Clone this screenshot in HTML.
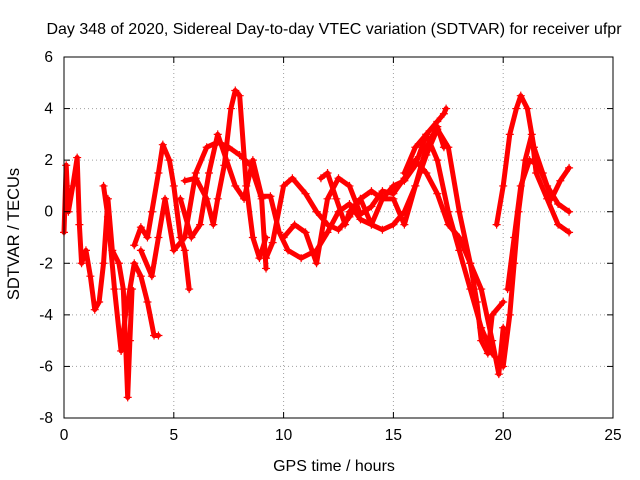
<!DOCTYPE html>
<html><head><meta charset="utf-8"><style>
body{margin:0;background:#fff}
svg{display:block;font-family:"Liberation Sans",sans-serif}
</style></head><body>
<svg id="chart" width="640" height="480">
<rect x="0" y="0" width="640" height="480" fill="#fff"/>
<g id="grid"></g>
<g id="series"></g>
<rect x="64" y="57" width="549" height="361" fill="none" stroke="#000" stroke-width="1"/>
<g id="ticks"></g>
<text x="334" y="34" text-anchor="middle" font-size="16">Day 348 of 2020, Sidereal Day-to-day VTEC variation (SDTVAR) for receiver ufpr</text>
<text x="334" y="471" text-anchor="middle" font-size="16">GPS time / hours</text>
<text x="19" y="234" text-anchor="middle" font-size="16.5" transform="rotate(-90 19 234)">SDTVAR / TECUs</text>
</svg>
<script>
const xTicks=[0,5,10,15,20,25];
const yTicks=[-8,-6,-4,-2,0,2,4,6];
const s1=[[0,-0.8],[0.1,1.8],[0.2,0],[0.4,1],[0.6,2.1],[0.7,-0.5],[0.8,-2],[1.0,-1.5],[1.2,-2.5],[1.4,-3.8],[1.6,-3.5],[1.8,-2],[2.0,0.5],[2.2,-1.5],[2.5,-2],[2.7,-3],[2.8,-5],[2.9,-7.2],[3.0,-5],[3.1,-3]];
const s2=[[1.8,1],[2.0,-0.2],[2.3,-3],[2.6,-5.4],[2.8,-4],[3.2,-2],[3.5,-2.5],[3.8,-3.5],[4.1,-4.8],[4.3,-4.8]];
const s3=[[3.2,-1.3],[3.5,-0.6],[3.8,-1],[4.0,0],[4.3,1.5],[4.5,2.6],[4.8,2],[5.0,1],[5.3,-1],[5.5,-1.5],[5.7,-3]];
const s4=[[3.5,-1.5],[4,-2.5],[4.3,-1],[4.6,0.5],[5,-1.5],[5.5,-1],[6,1.5],[6.5,2.5],[7,2.7],[7.5,2.5],[8,2.2],[8.5,1.8],[9,0.5],[9.2,-2.2]];
const s5=[[5.5,1.2],[6,1.3],[6.5,0.5],[6.8,-0.5],[7,0.5],[7.3,1.8],[7.6,4],[7.8,4.7],[8,4.5],[8.3,1],[8.6,-1],[8.9,-1.8],[9.2,-1]];
const s6=[[5.3,0.5],[5.8,-1],[6.2,-0.5],[6.6,1.5],[7,3],[7.4,2],[7.8,1],[8.2,0.5],[8.6,2],[9,0.6],[9.4,0.6],[9.8,-0.8],[10.2,-1.5],[10.8,-1.8],[11.5,-1.5],[12,-0.8],[12.5,0],[13,0.3],[13.5,-0.3],[14,-0.5],[14.5,-0.7],[15,-0.5],[15.5,0],[16,1],[16.5,2.5],[17,3.3],[17.3,2.5]];
const s7=[[9.2,-1.8],[9.5,-1.2],[10,1],[10.4,1.3],[11,0.7],[11.5,0],[12,-0.5],[12.5,-0.7],[13,-0.2],[13.5,0.5],[14,-0.5],[14.5,0.5],[15,1],[15.5,1.2],[16,1.8],[16.5,3],[17,3.5],[17.3,3.8],[17.4,4]];
const s8=[[10,-1],[10.5,-0.5],[11,-0.8],[11.5,-2],[12,0.5],[12.5,1.3],[13,1],[13.5,-0.1],[14,0.2],[14.5,0.8],[15,0.7],[15.5,1.3],[16,2],[16.5,1.5],[17,0.7],[17.5,-0.5],[18,-1],[18.5,-2],[19,-3],[19.5,-5],[19.8,-6.3],[20,-4.5]];
const s9=[[11.7,1.3],[12,1.5],[12.4,0.5],[12.8,-0.5],[13,0],[13.5,0.5],[14,0.8],[14.5,0.5],[15,0.5],[15.5,-0.5],[16,1],[16.5,2.2],[17,3.2],[17.5,2.5],[18,0],[18.5,-2],[18.8,-3.5],[19,-5],[19.3,-5.5],[19.5,-4],[20,-3.5]];
const s10=[[15.5,1.5],[16,2.5],[16.5,3],[17,2],[17.5,0],[18,-1.5],[18.5,-3],[19,-4.5],[19.5,-5.5],[20,-6],[20.3,-4],[20.5,-2],[20.7,0],[21,2],[21.3,3],[21.5,1.5],[22,0.5],[22.5,-0.5],[23,-0.8]];
const s11=[[19.7,-0.5],[20,1],[20.3,3],[20.6,4],[20.8,4.5],[21.1,4],[21.4,2.5],[21.8,1.5],[22.2,0.5],[22.6,1.2],[23,1.7]];
const s12=[[20.2,-3],[20.5,-1],[20.8,1],[21.2,2],[21.6,1.8],[22,1],[22.5,0.3],[23,0]];
const allSeries=[s1,s2,s3,s4,s5,s6,s7,s8,s9,s10,s11,s12];

const X0=64,X1=613,Y0=418,Y1=57;
const xs=v=>X0+(v-0)/(25-0)*(X1-X0);
const ys=v=>Y0-(v+8)/(14)*(Y0-Y1);
const NS="http://www.w3.org/2000/svg";
const grid=document.getElementById('grid'),ticks=document.getElementById('ticks'),ser=document.getElementById('series');
function mk(t,a){const e=document.createElementNS(NS,t);for(const k in a)e.setAttribute(k,a[k]);return e;}
xTicks.forEach(v=>{
  const x=xs(v);
  if(v>0&&v<25){const g=mk('line',{x1:x,x2:x,y1:Y0,y2:Y1,stroke:'#a0a0a0','stroke-dasharray':'1,3'});
  
  grid.appendChild(g);}
  ticks.appendChild(mk('line',{x1:x,x2:x,y1:Y0,y2:Y0-6,stroke:'#000'}));
  ticks.appendChild(mk('line',{x1:x,x2:x,y1:Y1,y2:Y1+6,stroke:'#000'}));
  const l=mk('text',{x:x,y:Y0+22,'text-anchor':'middle','font-size':'15.5'});l.textContent=v;
  
  ticks.appendChild(l);
});
yTicks.forEach(v=>{
  const y=ys(v);
  if(v>-8&&v<6){const g=mk('line',{x1:X0,x2:X1,y1:y,y2:y,stroke:'#a0a0a0','stroke-dasharray':'1,3'});
  
  grid.appendChild(g);}
  ticks.appendChild(mk('line',{x1:X0,x2:X0+6,y1:y,y2:y,stroke:'#000'}));
  ticks.appendChild(mk('line',{x1:X1,x2:X1-6,y1:y,y2:y,stroke:'#000'}));
  const l=mk('text',{x:X0-11,y:y+5,'text-anchor':'end','font-size':'15.5'});l.textContent=v;
  
  ticks.appendChild(l);
});
allSeries.forEach((s,i)=>{
  const p=mk('polyline',{points:s.map(d=>xs(d[0])+','+ys(d[1])).join(' '),fill:'none',stroke:'#ff0000','stroke-width':'5','stroke-linejoin':'round','stroke-linecap':'round'});
  
  
  ser.appendChild(p);
  s.forEach(d=>{
    const x=xs(d[0]),y=ys(d[1]);
    const m=mk('path',{d:`M${x-4},${y}H${x+4}M${x},${y-4}V${y+4}`,stroke:'#ff0000','stroke-width':'1.2'});
    
    
    ser.appendChild(m);
  });
});
</script>
</body></html>
